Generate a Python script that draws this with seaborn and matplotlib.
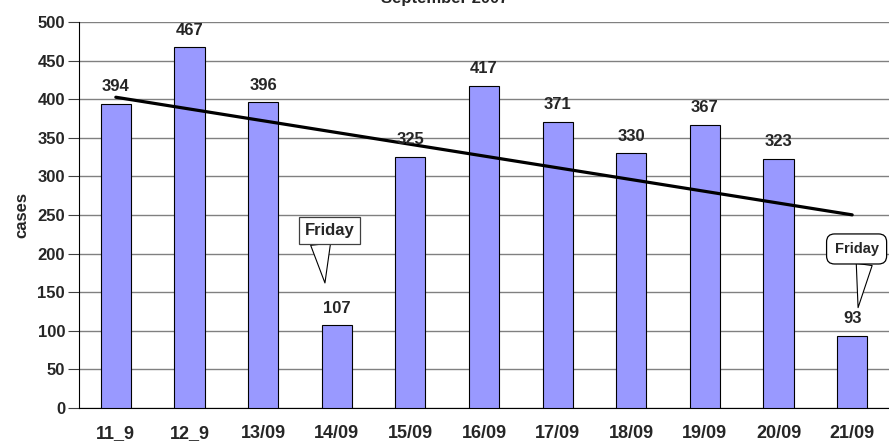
import numpy as np
import pandas as pd
import matplotlib.pyplot as plt
import seaborn as sns

# данные
dates = ["11_9", "12_9", "13/09", "14/09", "15/09", "16/09", "17/09", "18/09", "19/09", "20/09", "21/09"]
cases = [394, 467, 396, 107, 325, 417, 371, 330, 367, 323, 93]
notes = ["Friday", "Friday"]

df = pd.DataFrame({"date": dates, "cases": cases})

sns.set_style("white")
plt.rcParams['font.family'] = ['Liberation Sans', 'DejaVu Sans']
plt.rcParams['font.weight'] = 'bold'

fig = plt.figure(figsize=(8.89, 4.47), dpi=100)
ax = fig.add_axes([79 / 889, 39 / 447, 810 / 889, 386 / 447])

sns.barplot(data=df, x="date", y="cases", color="#9999FF", edgecolor="black",
            linewidth=0.8, width=0.41, saturation=1, ax=ax, zorder=3)

# линия тренда
x = np.arange(len(cases))
k, b = np.polyfit(x, cases, 1)
ax.plot([x[0], x[-1]], [k * x[0] + b, k * x[-1] + b], color="black", lw=2.3, zorder=4)

# подписи значений
for xi, v in zip(x, cases):
    ax.annotate(str(v), (xi, v), xytext=(0, 7), textcoords="offset points",
                ha="center", va="bottom", fontsize=12, fontweight="bold", zorder=5)

# выноски
ax.annotate(notes[0], xy=(2.84, 162), xytext=(2.90, 230), ha="center", va="center",
            fontsize=12, fontweight="bold", zorder=6,
            bbox=dict(boxstyle="square,pad=0.35", fc="white", ec="#404040", lw=0.9),
            arrowprops=dict(arrowstyle="wedge,tail_width=1.2,shrink_factor=0.5",
                            fc="white", ec="black", lw=0.8, relpos=(0.31, 0.0),
                            shrinkA=0, shrinkB=0))
ax.annotate(notes[1], xy=(10.08, 130), xytext=(10.06, 206), ha="center", va="center",
            fontsize=10.5, fontweight="bold", zorder=6,
            bbox=dict(boxstyle="round,pad=0.55", fc="white", ec="black", lw=0.9),
            arrowprops=dict(arrowstyle="wedge,tail_width=1.1,shrink_factor=0.5",
                            fc="white", ec="black", lw=0.8, relpos=(0.7, 0.0),
                            shrinkA=0, shrinkB=0),
            annotation_clip=False)

ax.set_xlim(-0.5, 10.5)
ax.set_ylim(0, 500)
ax.set_yticks(range(0, 501, 50))
ax.yaxis.grid(True, color="#808080", lw=1, zorder=0)
ax.set_axisbelow(True)

ax.set_xticks(np.arange(-0.5, 11, 1), minor=True)
ax.tick_params(axis="x", which="major", length=0, pad=12, labelsize=13)
ax.tick_params(axis="x", which="minor", length=5, color="#404040", width=1)
ax.tick_params(axis="y", length=8, color="#404040", labelsize=12, pad=2, left=True)
for lab in ax.get_xticklabels() + ax.get_yticklabels():
    lab.set_fontweight("bold")

for s in ["top", "right"]:
    ax.spines[s].set_visible(False)
ax.spines["left"].set_color("black")
ax.spines["bottom"].set_color("black")

ax.set_xlabel("")
ax.set_ylabel("cases", fontsize=12, fontweight="bold", labelpad=6)

fig.text(0.5, 1 - 3 / 447, "September 2007", ha="center", va="baseline",
         fontsize=12, fontweight="bold")

fig.savefig("out.png", dpi=100)
